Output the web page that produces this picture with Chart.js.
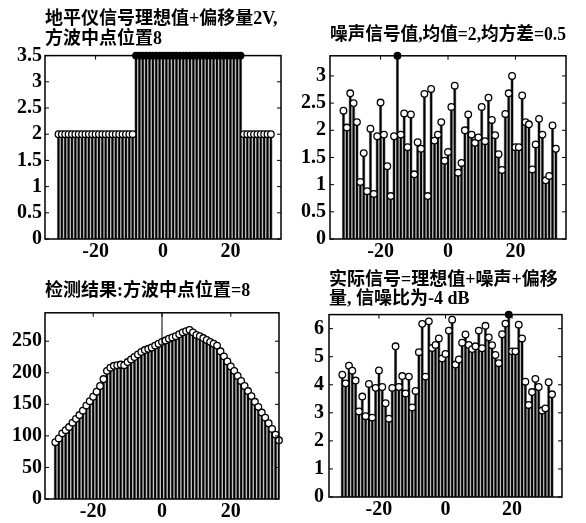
<!DOCTYPE html>
<html>
<head>
<meta charset="utf-8">
<script src="https://cdn.jsdelivr.net/npm/chart.js@4.4.1/dist/chart.umd.min.js"></script>
<style>
  body { margin: 0; background: #fff; }
  #wrap { position: relative; width: 586px; height: 523px; }
  canvas { position: absolute; }
</style>
</head>
<body>
<div id="wrap">
  <canvas id="ideal" width="293" height="262" style="left:0;top:0"></canvas>
  <canvas id="noise" width="293" height="262" style="left:293px;top:0"></canvas>
  <canvas id="detect" width="293" height="261" style="left:0;top:262px"></canvas>
  <canvas id="actual" width="293" height="261" style="left:293px;top:262px"></canvas>
</div>
<script>
'use strict';

// sample positions (lags)
function range(a, b) {
  let out = [];
  for (let i = a; i <= b; i++) out.push(i);
  return out;
}
let signalX = range(-31, 32);
let detectX = range(-31, 34);

// ideal signal + offset 2V
let idealVals = [
  2, 2, 2, 2, 2, 2, 2, 2, 2, 2, 2, 2, 2, 2, 2, 2, 2, 2, 2, 2, 2, 2, 2,
  3.5, 3.5, 3.5, 3.5, 3.5, 3.5, 3.5, 3.5, 3.5, 3.5, 3.5, 3.5, 3.5, 3.5, 3.5, 3.5,
  3.5, 3.5, 3.5, 3.5, 3.5, 3.5, 3.5, 3.5, 3.5, 3.5, 3.5, 3.5, 3.5, 3.5, 3.5, 3.5,
  2, 2, 2, 2, 2, 2, 2, 2, 2
];

// noise
let noiseVals = [
  2.36, 2.05, 2.68, 2.50, 2.15, 1.05, 1.58, 0.88, 2.03, 0.83,
  1.89, 2.51, 1.92, 1.34, 0.79, 1.89, 3.37, 1.92, 2.31, 1.69,
  2.29, 1.19, 1.78, 1.66, 2.67, 0.79, 2.76, 1.81, 1.92, 2.15,
  1.44, 1.60, 2.43, 2.82, 1.22, 1.40, 2.00, 2.29, 1.92, 1.77,
  1.87, 2.43, 1.80, 2.60, 2.19, 1.91, 1.56, 1.27, 2.30, 2.68,
  3.00, 1.69, 1.69, 2.64, 2.15, 2.11, 1.28, 1.74, 2.21, 1.92,
  1.08, 1.16, 2.09, 1.66
];

// detection result
let detectVals = [
  90, 96, 104, 109, 114, 121, 127, 133, 140, 148,
  155, 162, 170, 179, 190, 203, 208, 211, 212, 213,
  212, 217, 221, 225, 229, 233, 236, 238, 240, 243,
  246, 249, 251, 254, 256, 258, 261, 264, 266, 268,
  264, 260, 258, 255, 252, 249, 246, 243, 234, 226,
  218, 210, 203, 195, 187, 179, 171, 163, 154, 146,
  137, 129, 120, 111, 102, 93
];

// actual signal
let actualVals = [
  4.36, 4.05, 4.68, 4.50, 4.15, 3.05, 3.58, 2.88, 4.03, 2.83,
  3.89, 4.51, 3.92, 3.34, 2.79, 3.89, 5.37, 3.92, 4.31, 3.69,
  4.29, 3.19, 3.78, 5.16, 6.17, 4.29, 6.26, 5.31, 5.42, 5.65,
  4.94, 5.10, 5.93, 6.32, 4.72, 4.90, 5.50, 5.79, 5.42, 5.27,
  5.37, 5.93, 5.30, 6.10, 5.69, 5.41, 5.06, 4.77, 5.80, 6.18,
  6.50, 5.19, 5.19, 6.14, 5.65, 4.11, 3.28, 3.74, 4.21, 3.92,
  3.08, 3.16, 4.09, 3.66
];

let xTicks = [-20, 0, 20];
let idealTicks = [0, 0.5, 1, 1.5, 2, 2.5, 3, 3.5];
let noiseTicks = [0, 0.5, 1, 1.5, 2, 2.5, 3];
let detectTicks = [0, 50, 100, 150, 200, 250];
let actualTicks = [0, 1, 2, 3, 4, 5, 6];

const tickFont = { family: "'Liberation Serif', 'Times New Roman', serif", size: 20, weight: 'bold' };
const titleFont = { family: "'Liberation Serif', 'Noto Sans CJK SC', serif", size: 18, weight: 'bold', lineHeight: 1.1 };

// frame with inward ticks, like matlab "box on"
const boxPlugin = {
  id: 'box',
  afterDatasetsDraw(chart, args, opts) {
    const ctx = chart.ctx;
    const a = chart.chartArea;
    const x = chart.scales.x;
    const y = chart.scales.y;
    ctx.save();
    ctx.strokeStyle = '#000';
    ctx.lineWidth = 1;
    ctx.beginPath();
    y.ticks.forEach(t => {
      let py = y.getPixelForValue(t.value);
      ctx.moveTo(a.left, py); ctx.lineTo(a.left + 4, py);
      ctx.moveTo(a.right, py); ctx.lineTo(a.right - 4, py);
    });
    x.ticks.forEach(t => {
      let px = x.getPixelForValue(t.value);
      ctx.moveTo(px, a.bottom); ctx.lineTo(px, a.bottom - 4);
      ctx.moveTo(px, a.top); ctx.lineTo(px, a.top + 4);
    });
    if (opts.zeroLine) {
      let px = x.getPixelForValue(0);
      ctx.moveTo(px, a.top); ctx.lineTo(px, a.bottom);
    }
    ctx.stroke();
    ctx.lineWidth = 1.5;
    ctx.strokeRect(a.left, a.top, a.right - a.left, a.bottom - a.top);
    ctx.restore();
  }
};

function stemChart(id, xs, ys, o) {
  let pts = xs.map((x, i) => ({ x: x, y: ys[i] }));
  return new Chart(document.getElementById(id), {
    type: 'bar',
    data: {
      datasets: [
        {
          type: 'line', data: pts, showLine: false, clip: false,
          pointRadius: 3.3, pointBorderWidth: 1.3, pointBorderColor: '#000',
          pointBackgroundColor: c => (c.raw && c.raw.y >= o.yMax ? '#000' : '#fff')
        },
        { data: pts, backgroundColor: '#000', barThickness: 1.2, grouped: false },
        { data: pts, backgroundColor: '#8f8f8f', barThickness: 2.4, grouped: false }
      ]
    },
    options: {
      responsive: false,
      animation: false,
      layout: { padding: { left: 0, right: o.right, top: 0, bottom: 0 } },
      plugins: {
        legend: { display: false },
        tooltip: { enabled: false },
        title: {
          display: true, text: o.title, align: o.align, fullSize: false,
          color: '#000', font: titleFont, padding: o.titlePad
        },
        box: { zeroLine: !!o.zeroLine }
      },
      scales: {
        x: {
          type: 'linear', min: o.xMin, max: o.xMax, offset: false,
          grid: { display: false, drawTicks: false }, border: { display: false },
          afterFit: s => { s.height = o.xH; },
          afterBuildTicks: s => { s.ticks = xTicks.map(v => ({ value: v })); },
          ticks: { font: tickFont, color: '#000', padding: 1, autoSkip: false, maxRotation: 0, callback: v => String(v) }
        },
        y: {
          type: 'linear', min: 0, max: o.yMax,
          grid: { display: false, drawTicks: false }, border: { display: false },
          afterFit: s => { s.width = o.yW; },
          afterBuildTicks: s => { s.ticks = o.yTicks.map(v => ({ value: v })); },
          ticks: { font: tickFont, color: '#000', padding: o.yPad, autoSkip: false, callback: v => String(v) }
        }
      }
    },
    plugins: [boxPlugin]
  });
}

stemChart('ideal', signalX, idealVals, {
  title: ['地平仪信号理想值+偏移量2V,', '方波中点位置8'], align: 'start',
  titlePad: { top: 9.5, bottom: 6.5 },
  xMin: -35, xMax: 35, yMax: 3.5, yTicks: idealTicks,
  yW: 45, xH: 23, right: 12, yPad: 3
});

stemChart('noise', signalX, noiseVals, {
  title: '噪声信号值,均值=2,均方差=0.5', align: 'center',
  titlePad: { top: 25.5, bottom: 10.5 },
  xMin: -35, xMax: 35, yMax: 3.37, yTicks: noiseTicks,
  yW: 37, xH: 23, right: 20, yPad: 4
});

stemChart('detect', detectX, detectVals, {
  title: '检测结果:方波中点位置=8', align: 'start',
  titlePad: { top: 19.5, bottom: 11.5 },
  xMin: -34, xMax: 34, yMax: 295, yTicks: detectTicks,
  yW: 45, xH: 24, right: 14, yPad: 3, zeroLine: true
});

stemChart('actual', signalX, actualVals, {
  title: ['实际信号=理想值+噪声+偏移', '量, 信噪比为-4 dB'], align: 'start',
  titlePad: { top: 8, bottom: 5 },
  xMin: -35, xMax: 35, yMax: 6.5, yTicks: actualTicks,
  yW: 36, xH: 26, right: 24, yPad: 5
});
</script>
</body>
</html>
